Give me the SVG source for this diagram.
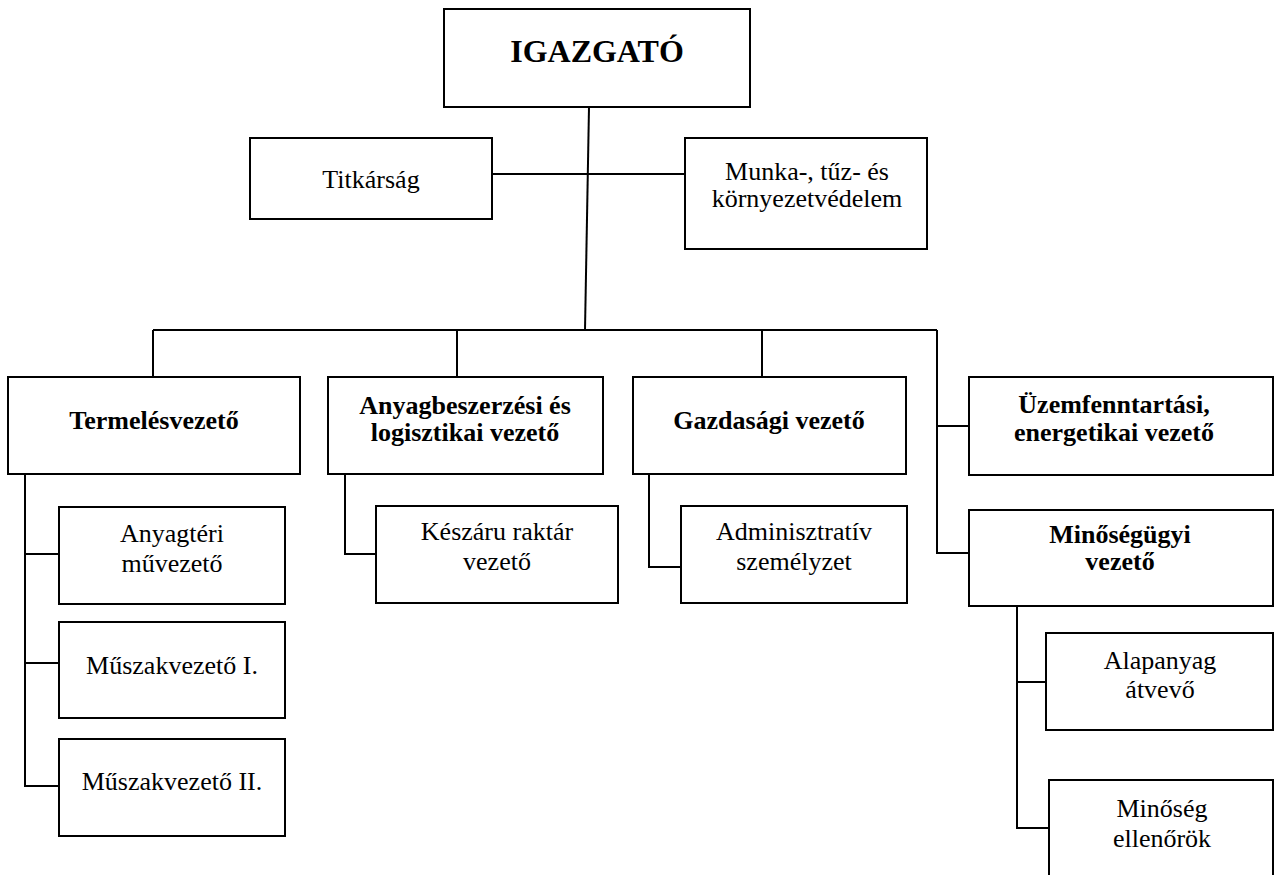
<svg xmlns="http://www.w3.org/2000/svg" width="1275" height="875" viewBox="0 0 1275 875">
<style>
.box{fill:#fff;stroke:#000;stroke-width:2}
.ln{fill:none;stroke:#000;stroke-width:2}
text{font-family:"Liberation Serif","Times New Roman",serif;font-size:26px;fill:#000;text-anchor:middle}
.b{font-weight:bold}
</style>
<rect width="1275" height="875" fill="#fff"/>
<g id="connectors" class="ln">
<path d="M589,107 L585,330"/>
<path d="M492,174 H685"/>
<path d="M153,330 H937"/>
<path d="M153,330 V377"/>
<path d="M457,330 V377"/>
<path d="M762,330 V377"/>
<path d="M937,330 V553 H969"/>
<path d="M937,426 H969"/>
<path d="M25,474 V786 H59"/>
<path d="M25,554 H59"/>
<path d="M25,663 H59"/>
<path d="M345,474 V554 H376"/>
<path d="M649,474 V567 H681"/>
<path d="M1017,606 V828 H1049"/>
<path d="M1017,682 H1046"/>
</g>
<g id="igazgato"><rect class="box" x="444" y="9" width="306" height="98"/><text class="b" x="597" y="62" style="font-size:32px">IGAZGATÓ</text></g>
<g id="titkarsag"><rect class="box" x="250" y="138" width="242" height="81"/><text x="371" y="188">Titkárság</text></g>
<g id="munka"><rect class="box" x="685" y="138" width="242" height="111"/><text x="807" y="180">Munka-, tűz- és</text><text x="807" y="207">környezetvédelem</text></g>
<g id="termeles"><rect class="box" x="8" y="377" width="292" height="97"/><text class="b" x="154" y="429">Termelésvezető</text></g>
<g id="anyagbeszerzes"><rect class="box" x="328" y="377" width="275" height="97"/><text class="b" x="465" y="414">Anyagbeszerzési és</text><text class="b" x="465" y="441">logisztikai vezető</text></g>
<g id="gazdasagi"><rect class="box" x="633" y="377" width="273" height="97"/><text class="b" x="769" y="429">Gazdasági vezető</text></g>
<g id="uzemfenntartasi"><rect class="box" x="969" y="377" width="304" height="98"/><text class="b" x="1114" y="413">Üzemfenntartási,</text><text class="b" x="1114" y="441">energetikai vezető</text></g>
<g id="minosegugyi"><rect class="box" x="969" y="510" width="304" height="96"/><text class="b" x="1120" y="543">Minőségügyi</text><text class="b" x="1120" y="570">vezető</text></g>
<g id="anyagteri"><rect class="box" x="59" y="507" width="226" height="97"/><text x="172" y="542">Anyagtéri</text><text x="172" y="572">művezető</text></g>
<g id="muszak1"><rect class="box" x="59" y="622" width="226" height="96"/><text x="172" y="674">Műszakvezető I.</text></g>
<g id="muszak2"><rect class="box" x="59" y="739" width="226" height="97"/><text x="172" y="790">Műszakvezető II.</text></g>
<g id="keszaru"><rect class="box" x="376" y="506" width="242" height="97"/><text x="497" y="540">Készáru raktár</text><text x="497" y="570">vezető</text></g>
<g id="adminisztrativ"><rect class="box" x="681" y="506" width="226" height="97"/><text x="794" y="540">Adminisztratív</text><text x="794" y="570">személyzet</text></g>
<g id="alapanyag"><rect class="box" x="1046" y="633" width="227" height="97"/><text x="1160" y="669">Alapanyag</text><text x="1160" y="698">átvevő</text></g>
<g id="minoseg"><rect class="box" x="1049" y="780" width="224" height="110"/><text x="1162" y="817">Minőség</text><text x="1162" y="847">ellenőrök</text></g>
</svg>
